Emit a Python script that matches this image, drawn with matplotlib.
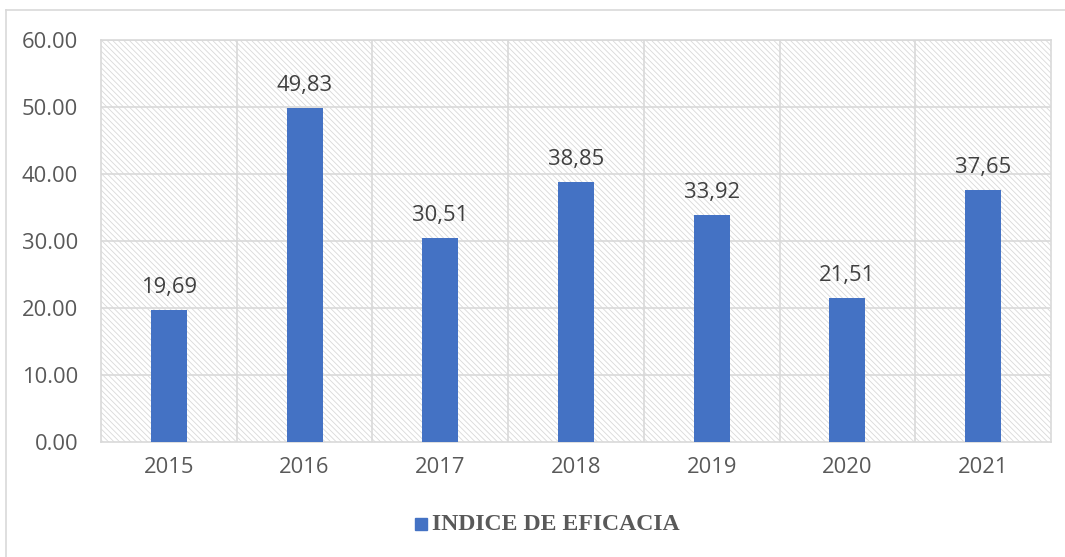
import matplotlib
matplotlib.use("Agg")
import matplotlib.pyplot as plt
from matplotlib.lines import Line2D
from matplotlib.patches import Rectangle

years = ["2015", "2016", "2017", "2018", "2019", "2020", "2021"]
values = [19.69, 49.83, 30.51, 38.85, 33.92, 21.51, 37.65]
labels = ["19,69", "49,83", "30,51", "38,85", "33,92", "21,51", "37,65"]
yticks = [0, 10, 20, 30, 40, 50, 60]

blue = "#4472C4"
gray = "#595959"
grid = "#D9D9D9"

plt.rcParams["hatch.color"] = "#D6D6D6"
plt.rcParams["hatch.linewidth"] = 0.6

fig = plt.figure(figsize=(10.65, 5.57), dpi=100)
ax = fig.add_axes([101 / 1065, 1 - 442 / 557, 950 / 1065, 402 / 557])

# hatched background
ax.add_patch(Rectangle((0, 0), 1, 1, transform=ax.transAxes, facecolor="white",
                       edgecolor=grid, hatch="\\" * 6, lw=0, zorder=0))

x = list(range(len(years)))
ax.bar(x, values, width=0.265, color=blue, zorder=3)
for xi, v, lab in zip(x, values, labels):
    ax.text(xi, v + 1.8, lab, ha="center", va="bottom", fontsize=15.8,
            family="Open Sans", color="#404040", zorder=4)

ax.set_xlim(-0.5, len(years) - 0.5)
ax.set_ylim(0, 60)
ax.set_yticks(yticks)
ax.set_yticklabels(["%.2f" % t for t in yticks])
ax.set_xticks(x)
ax.set_xticklabels(years)
ax.tick_params(length=0, labelsize=15.8, labelcolor=gray)
for lab in ax.get_xticklabels() + ax.get_yticklabels():
    lab.set_family("Open Sans")
ax.tick_params(axis="x", pad=11)
ax.tick_params(axis="y", pad=16.5)

for t in yticks[1:]:
    ax.axhline(t, color=grid, lw=1.2, zorder=1)
for b in range(1, len(years)):
    ax.axvline(b - 0.5, color=grid, lw=1.2, zorder=1)
for s in ax.spines.values():
    s.set_color(grid)
    s.set_linewidth(1.2)

# outer chart border (top and left)
fig.add_artist(Line2D([6 / 1065, 1], [1 - 10 / 557, 1 - 10 / 557], color=grid, lw=1.2))
fig.add_artist(Line2D([6 / 1065, 6 / 1065], [0, 1 - 10 / 557], color=grid, lw=1.2))

# legend
fig.add_artist(Rectangle((415 / 1065, 1 - 530 / 557), 12 / 1065, 12 / 557,
                         transform=fig.transFigure, color=blue))
fig.text(432 / 1065, 1 - 525 / 557, "INDICE DE EFICACIA", ha="left", va="center",
         fontsize=17.1, fontweight="bold", family="Liberation Serif", color=gray)

fig.savefig("out.png", dpi=100)
